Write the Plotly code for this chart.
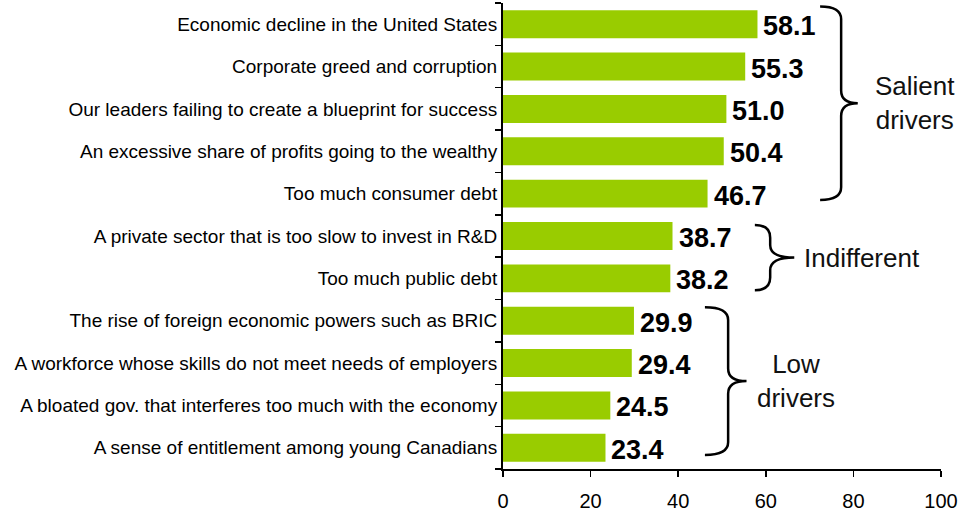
import plotly.graph_objects as go

categories = [
    "Economic decline in the United States",
    "Corporate greed and corruption",
    "Our leaders failing to create a blueprint for success",
    "An excessive share of profits going to the wealthy",
    "Too much consumer debt",
    "A private sector that is too slow to invest in R&D",
    "Too much public debt",
    "The rise of foreign economic powers such as BRIC",
    "A workforce whose skills do not meet needs of employers",
    "A bloated gov. that interferes too much with the economy",
    "A sense of entitlement among young Canadians",
]
values = [58.1, 55.3, 51.0, 50.4, 46.7, 38.7, 38.2, 29.9, 29.4, 24.5, 23.4]
x_ticks = [0, 20, 40, 60, 80, 100]

group_labels = ["Salient<br>drivers", "Indifferent", "Low<br>drivers"]
group_rows = [(0, 4), (5, 6), (7, 10)]

ypos = list(range(len(categories)))

fig = go.Figure()
fig.add_trace(go.Bar(
    x=values, y=ypos, orientation="h",
    marker=dict(color="#99CC00", line=dict(width=0)),
    hoverinfo="skip",
))

# value labels
for v, y in zip(values, ypos):
    fig.add_annotation(
        x=v, y=y, xref="x", yref="y", text=f"{v:.1f}",
        showarrow=False, xanchor="left", yanchor="middle", xshift=4, yshift=-2,
        font=dict(family="Arial, Liberation Sans", size=27, color="black", weight="bold"),
    )

# braces (styling geometry)
brace_geom = [
    # x_end, x_vert, x_tip, y_top_off, y_bot_off
    (72.4, 77.2, 81.0, -0.42, 0.15),
    (57.5, 61.0, 66.5, -0.26, 0.28),
    (46.1, 51.4, 55.6, -0.32, 0.17),
]
label_pos = [(94.0, "center"), (68.3, "left"), (66.8, "center")]
d = 0.3
for (r0, r1), (xe, xv, xt, o0, o1), lab, (lx, la) in zip(group_rows, brace_geom, group_labels, label_pos):
    y0 = r0 + o0
    y1 = r1 + o1
    ym = (y0 + y1) / 2
    path = (
        f"M {xe},{y0} Q {xv},{y0} {xv},{y0 + d} "
        f"L {xv},{ym - d} Q {xv},{ym} {xt},{ym} "
        f"Q {xv},{ym} {xv},{ym + d} "
        f"L {xv},{y1 - d} Q {xv},{y1} {xe},{y1}"
    )
    fig.add_shape(type="path", path=path, xref="x", yref="y",
                  line=dict(color="black", width=2.5))
    fig.add_annotation(
        x=lx, y=ym, xref="x", yref="y", text=lab, showarrow=False,
        xanchor=la, yanchor="middle", align="center",
        font=dict(family="Arial, Liberation Sans", size=26, color="#111"),
    )

fig.update_layout(
    width=966, height=510,
    margin=dict(l=503, r=25, t=3, b=41, autoexpand=False),
    paper_bgcolor="white", plot_bgcolor="white",
    showlegend=False, bargap=0.34,
    font=dict(family="Arial, Liberation Sans", color="black"),
)
fig.update_xaxes(
    range=[0, 100], tickvals=x_ticks, showgrid=False, zeroline=False,
    automargin=False,
    showline=True, linecolor="black", linewidth=1.5,
    ticks="outside", ticklen=6, tickcolor="black", tickwidth=1.5,
    ticklabelstandoff=7,
    tickfont=dict(size=20, color="black"),
)
fig.update_yaxes(
    range=[len(categories) - 0.5, -0.5], tickvals=ypos, ticktext=categories,
    showgrid=False, zeroline=False, automargin=False,
    showline=True, linecolor="black", linewidth=2,
    ticks="", ticklen=0,
    minor=dict(tick0=0.5, dtick=1, ticks="outside", ticklen=6, tickcolor="black", tickwidth=1.5, showgrid=False),
    tickfont=dict(size=19, color="black"),
)

fig.write_html("out.html", config={"displayModeBar": False, "staticPlot": True},
               post_script="document.body.style.margin='0px';")
